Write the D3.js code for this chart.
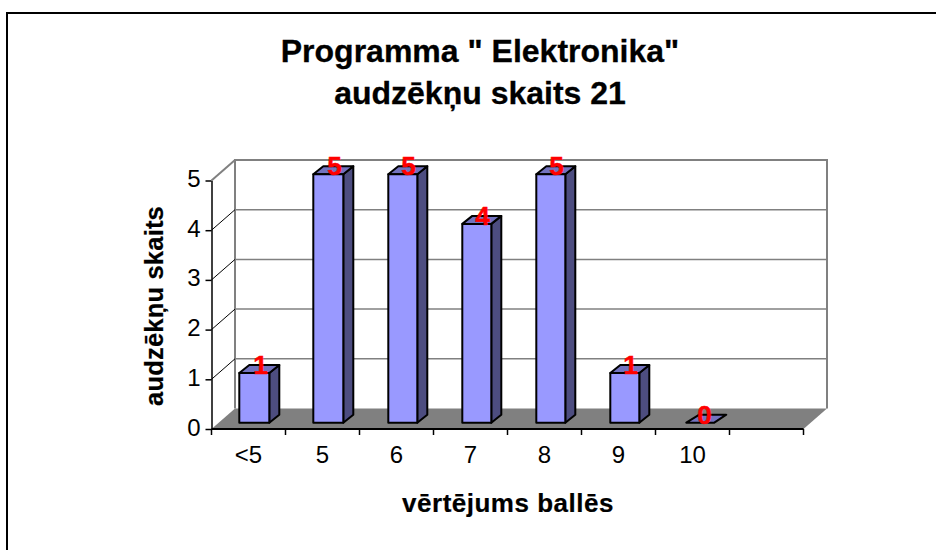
<!DOCTYPE html>
<html><head><meta charset="utf-8">
<script src="https://cdn.jsdelivr.net/npm/d3@7/dist/d3.min.js"></script>
<style>html,body{margin:0;padding:0;background:#fff}svg{display:block}text{font-family:"Liberation Sans",Arial,sans-serif}</style>
</head><body><svg id="c" width="936" height="550"></svg>
<script>
const categories = ["<5","5","6","7","8","9","10",""];
const values = [1,5,5,4,5,1,0];
const yTicks = [0,1,2,3,4,5];
const titleLines = ['Programma " Elektronika"','audzēkņu skaits 21'];
const xTitle = "vērtējums ballēs";
const yTitle = "audzēkņu skaits";

const svg = d3.select("#c");
const dx = 23.5, dy = -20.5;
const x = d3.scaleBand().domain(d3.range(categories.length)).range([211.5,803.5]);
const y = d3.scaleLinear().domain([0,5]).range([429,180.5]);
const grey = "#808080";

svg.append("path").attr("d","M7,550V13H936").attr("fill","none").attr("stroke","#000").attr("stroke-width",2);

const title = svg.append("text").attr("text-anchor","middle").attr("font-weight","bold").attr("font-size",32).attr("fill","#000").attr("stroke","#000").attr("stroke-width",0.3);
titleLines.forEach((t,i)=>title.append("tspan").attr("x",480).attr("y",62+i*42).text(t));

const [x0,x1] = x.range();
svg.append("path").attr("d",`M${x0},${y(0)}L${x0+dx},${y(0)+dy}L${x1+dx},${y(0)+dy}L${x1},${y(0)}Z`).attr("fill",grey);
svg.append("path").attr("d",`M${x0+dx},${y(0)+dy}V${y(5)+dy}H${x1+dx}V${y(0)+dy}`).attr("fill","none").attr("stroke",grey).attr("stroke-width",2);
yTicks.slice(1).forEach(v=>{
  svg.append("line").attr("x1",x0+dx).attr("x2",x1+dx).attr("y1",y(v)+dy).attr("y2",y(v)+dy).attr("stroke",grey).attr("stroke-width",v==5?2:1.5);
  svg.append("line").attr("x1",x0).attr("x2",x0+dx).attr("y1",y(v)).attr("y2",y(v)+dy).attr("stroke",v==5?grey:"#000").attr("stroke-width",v==5?2:1);
});
const gy = svg.append("g").attr("transform",`translate(${x0},0)`).call(d3.axisLeft(y).tickValues(yTicks).tickFormat(d3.format("d")).tickSize(6).tickPadding(5).tickSizeOuter(0));
gy.selectAll("text").attr("font-size",24).attr("fill","#000").attr("dy","0.25em").style("font-family",'"Liberation Sans"');
gy.selectAll("line,path").attr("stroke","#000").attr("stroke-width",1.5);
const edges = d3.range(categories.length+1).map(i=>x0+i*x.step());
svg.append("line").attr("x1",x0).attr("x2",x1).attr("y1",y(0)).attr("y2",y(0)).attr("stroke","#000").attr("stroke-width",2);
svg.selectAll(".tk").data(edges).join("line").attr("x1",d=>d).attr("x2",d=>d).attr("y1",y(0)).attr("y2",y(0)+6).attr("stroke","#000").attr("stroke-width",1.5);
svg.selectAll(".cl").data(categories).join("text").attr("text-anchor","middle").attr("font-size",24).attr("fill","#000")
  .attr("x",(d,i)=>x(i)+x.bandwidth()/2).attr("y",y(0)+34).text(d=>d);

const bx = 10, by = -8, bw = 30, base = 422.7;
const barG = svg.selectAll(".bar").data(values).join("g").attr("class","bar");
const unit = y(0)-y(1);
barG.each(function(v,i){
  const g = d3.select(this), l = x(i)+27.8+(i>1?1:0), r = x(i)+27.8+bw, t = base - v*unit;
  const st = {stroke:"#000","stroke-width":2,"stroke-linejoin":"round"};
  const add=(d,f)=>{const p=g.append("path").attr("d",d).attr("fill",f);Object.entries(st).forEach(([k,a])=>p.attr(k,a));};
  if(v>0){
    add(`M${r},${base}L${r+bx},${base+by}V${t+by}L${r},${t}Z`,"#4d4d80");
    add(`M${l},${t}H${r}L${r+bx},${t+by}H${l+bx}Z`,"#7373bf");
    add(`M${l},${t}H${r}V${base}H${l}Z`,"#9999ff");
  } else {
    add(`M${l+2},${t}H${r+1}L${r+bx+3},${t+by}H${l+bx+5}Z`,"#7373bf");
  }
});
svg.selectAll(".lbl").data(values).join("text").attr("text-anchor","middle").attr("font-weight","bold").attr("font-size",26).attr("fill","#f00").attr("stroke","#f00").attr("stroke-width",0.5)
  .attr("x",(d,i)=>x(i)+x.bandwidth()/2+12).attr("y",d=>base-d*unit+1).text(d=>d);

svg.append("text").attr("text-anchor","middle").attr("font-weight","bold").attr("font-size",26).attr("letter-spacing",0.5).attr("stroke","#000").attr("stroke-width",0.2).attr("x",508).attr("y",512).text(xTitle);
svg.append("text").attr("text-anchor","middle").attr("font-weight","bold").attr("font-size",25.5).attr("letter-spacing",0.2).attr("stroke","#000").attr("stroke-width",0.2).attr("transform","translate(163,306) rotate(-90)").text(yTitle);
</script></body></html>
